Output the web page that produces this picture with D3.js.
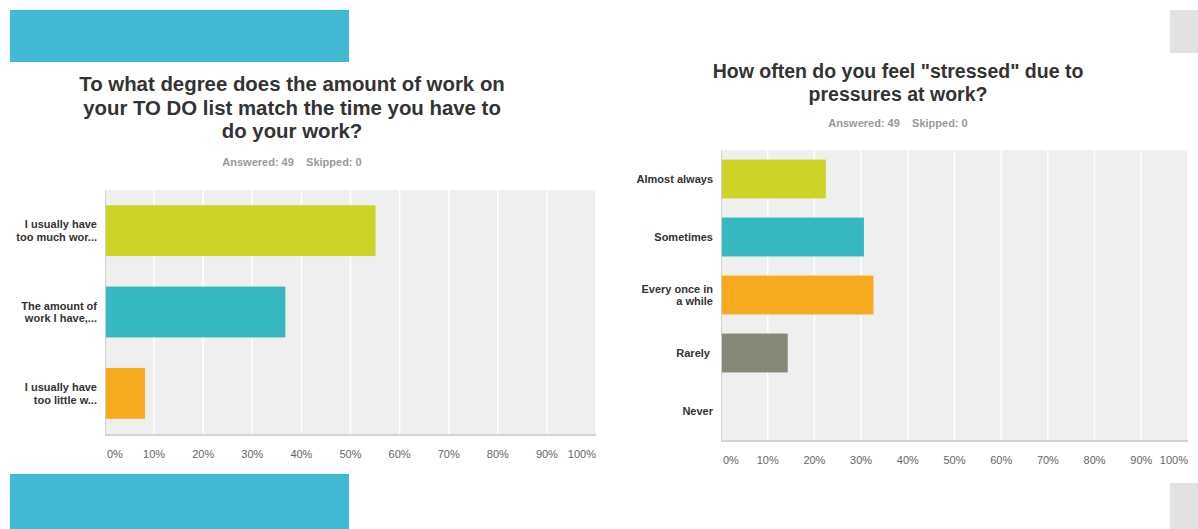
<!DOCTYPE html>
<html>
<head>
<meta charset="utf-8">
<script src="https://cdn.jsdelivr.net/npm/d3@7"></script>
<style>
  html, body { margin: 0; padding: 0; background: #fff; }
  svg { display: block; font-family: "Liberation Sans", Arial, Helvetica, sans-serif; }
</style>
</head>
<body>
<svg id="chart" width="1198" height="529"></svg>
<script>
// Survey responses (percent of 49 respondents)
const workloadTitle = ["To what degree does the amount of work on", "your TO DO list match the time you have to", "do your work?"];
const workloadCategories = [["I usually have", "too much wor..."], ["The amount of", "work I have,..."], ["I usually have", "too little w..."]];
const workloadValues = [55.1, 36.73, 8.16];

const stressTitle = ["How often do you feel \"stressed\" due to", "pressures at work?"];
const stressCategories = [["Almost always"], ["Sometimes"], ["Every once in", "a while"], ["Rarely "], ["Never"]];
const stressValues = [22.45, 30.61, 32.65, 14.29, 0];

const answered = 49;
const skipped = 0;
const tickValues = [0, 10, 20, 30, 40, 50, 60, 70, 80, 90, 100];
const barColors = ["#cdd426", "#35b8c0", "#f6ab1f", "#878777", "#c4c4c4"];

const svg = d3.select("#chart");

// Decorative page blocks
svg.append("rect").attr("x", 10).attr("y", 10).attr("width", 339).attr("height", 52).attr("fill", "#41b9d3");
svg.append("rect").attr("x", 10).attr("y", 474).attr("width", 339).attr("height", 55).attr("fill", "#41b9d3");
svg.append("rect").attr("x", 1170).attr("y", 10).attr("width", 28).attr("height", 43).attr("fill", "#e2e2e2");
svg.append("rect").attr("x", 1170).attr("y", 483).attr("width", 28).attr("height", 46).attr("fill", "#e2e2e2");

function drawChart(opt) {
  const g = svg.append("g");

  // Title
  const title = g.append("text")
    .attr("text-anchor", "middle")
    .attr("font-weight", "bold")
    .attr("font-size", opt.titleSize)
    .attr("fill", "#333");
  opt.title.forEach((line, i) => {
    title.append("tspan").attr("x", opt.cx).attr("y", opt.titleY + i * opt.titleLead).text(line);
  });

  // Answered / Skipped
  g.append("text")
    .attr("x", opt.cx).attr("y", opt.subY)
    .attr("text-anchor", "middle")
    .attr("font-weight", "bold")
    .attr("font-size", 11)
    .attr("fill", "#9a9a9a")
    .style("white-space", "pre")
    .text(`Answered: ${answered}    Skipped: ${skipped}`);

  const x = d3.scaleLinear().domain([0, 100]).range([opt.left, opt.right]);
  const y = d3.scaleBand()
    .domain(d3.range(opt.values.length))
    .range([opt.top, opt.bottom])
    .paddingInner(opt.pad).paddingOuter(opt.pad / 2);

  // Plot background
  g.append("rect")
    .attr("x", opt.left).attr("y", opt.top)
    .attr("width", opt.right - opt.left).attr("height", opt.bottom - opt.top)
    .attr("fill", "#efefef");

  // Vertical grid
  g.selectAll(".grid").data(tickValues.slice(1)).join("line")
    .attr("x1", d => x(d)).attr("x2", d => x(d))
    .attr("y1", opt.top).attr("y2", opt.bottom)
    .attr("stroke", "#fff").attr("stroke-width", 1.5);

  // Bars
  g.selectAll(".bar").data(opt.values).join("rect")
    .attr("x", x(0))
    .attr("y", (d, i) => y(i))
    .attr("width", d => x(d) - x(0))
    .attr("height", y.bandwidth())
    .attr("fill", (d, i) => barColors[i]);

  // Axis lines
  g.append("line")
    .attr("x1", opt.left + 0.5).attr("x2", opt.left + 0.5)
    .attr("y1", opt.top).attr("y2", opt.bottom)
    .attr("stroke", "#cfcfcf").attr("stroke-width", 1);
  g.append("line")
    .attr("x1", opt.left).attr("x2", opt.right)
    .attr("y1", opt.bottom + 1).attr("y2", opt.bottom + 1)
    .attr("stroke", "#d4d4d4").attr("stroke-width", 2);

  // Category labels
  opt.categories.forEach((lines, i) => {
    const cy = y(i) + y.bandwidth() / 2;
    const t = g.append("text")
      .attr("text-anchor", "end")
      .attr("font-weight", "bold")
      .attr("font-size", 11)
      .attr("fill", "#333")
      .style("white-space", "pre");
    lines.forEach((line, j) => {
      t.append("tspan")
        .attr("x", opt.left - 8)
        .attr("y", cy + 4 + (j - (lines.length - 1) / 2) * 12.5)
        .text(line);
    });
  });

  // Tick labels
  g.selectAll(".tick").data(tickValues).join("text")
    .attr("x", d => x(d))
    .attr("y", opt.tickY)
    .attr("text-anchor", (d, i) => i === 0 ? "start" : (i === tickValues.length - 1 ? "end" : "middle"))
    .attr("dx", (d, i) => i === 0 ? 2 : 0)
    .attr("font-size", 11)
    .attr("fill", "#666")
    .text(d => d + "%");
}

drawChart({
  title: workloadTitle, titleSize: 20.4, titleY: 91, titleLead: 23.5, cx: 292, subY: 166,
  categories: workloadCategories, values: workloadValues,
  left: 105, right: 596, top: 190, bottom: 434, pad: 0.375, tickY: 458
});

drawChart({
  title: stressTitle, titleSize: 19.5, titleY: 78, titleLead: 23, cx: 898, subY: 127,
  categories: stressCategories, values: stressValues,
  left: 721, right: 1188, top: 150, bottom: 440, pad: 0.33, tickY: 464
});
</script>
</body>
</html>
